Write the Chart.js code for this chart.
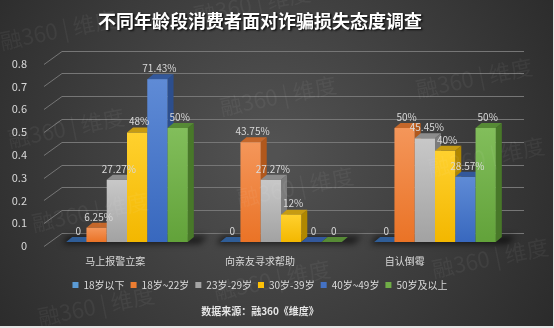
<!DOCTYPE html>
<html>
<head>
<meta charset="utf-8">
<script src="https://cdn.jsdelivr.net/npm/chart.js@4"></script>
<style>
  html, body { margin: 0; padding: 0; background: #e4e4e4; }
  #wrap { width: 553px; height: 326px; }
</style>
</head>
<body>
<div id="wrap"><canvas id="chart"></canvas></div>
<script>
const categories = ['马上报警立案', '向亲友寻求帮助', '自认倒霉'];
const ageGroups = ['18岁以下', '18岁~22岁', '23岁-29岁', '30岁-39岁', '40岁~49岁', '50岁及以上'];
const under18 = [0, 0, 0];
const age18to22 = [0.0625, 0.4375, 0.5];
const age23to29 = [0.2727, 0.2727, 0.4545];
const age30to39 = [0.48, 0.12, 0.40];
const age40to49 = [0.7143, 0, 0.2857];
const age50plus = [0.5, 0, 0.5];
const yTicks = [0, 0.1, 0.2, 0.3, 0.4, 0.5, 0.6, 0.7, 0.8];

const seriesValues = [under18, age18to22, age23to29, age30to39, age40to49, age50plus];

const legendColors = ['#5B9BD5', '#ED7D31', '#A5A5A5', '#FFC000', '#4472C4', '#70AD47'];
// front gradient (top, bottom), right side and top face of each 3D bar
const faces = [
  { front: ['#7DB1E1', '#5593CF'], side: '#3C6EA5', top: '#2F5D97' },
  { front: ['#F4965A', '#EA7326'], side: '#B1581C', top: '#C5672A' },
  { front: ['#C8C8C8', '#A2A2A2'], side: '#7C7C7C', top: '#8C8C8C' },
  { front: ['#FFD12E', '#F3B700'], side: '#B08700', top: '#C69B12' },
  { front: ['#5F8BD6', '#3868BE'], side: '#2C4E8D', top: '#33589B' },
  { front: ['#82BE5B', '#62A23A'], side: '#487829', top: '#568A35' }
];
const depth = { dx: 6, dy: -5 };
const textColor = '#D9D9D9';
const cjk = '"Noto Sans CJK SC", "Noto Sans", sans-serif';

Chart.defaults.font.family = cjk;

const pct = v => v === 0 ? '0' : +(v * 100).toFixed(2) + '%';

// dark vignette backdrop and a drop shadow on the title
const backdrop = {
  id: 'backdrop',
  beforeDraw(chart) {
    const { ctx, width, height } = chart;
    ctx.save();
    const g = ctx.createRadialGradient(270, 150, 10, 270, 150, 340);
    g.addColorStop(0, '#525252');
    g.addColorStop(1, '#2a2a2a');
    ctx.fillStyle = g;
    ctx.fillRect(0, 0, width, height);
    ctx.restore();

    const tb = chart.titleBlock;
    if (tb && !tb._shadowed) {
      const draw = tb.draw.bind(tb);
      tb.draw = area => {
        ctx.save();
        ctx.shadowColor = 'rgba(0,0,0,0.85)';
        ctx.shadowOffsetX = 1.5;
        ctx.shadowOffsetY = 1.5;
        ctx.shadowBlur = 2;
        draw(area);
        ctx.restore();
      };
      tb._shadowed = true;
    }
  }
};

// perspective grid, floor shadow and extruded bars
const bars3d = {
  id: 'bars3d',
  beforeDatasetsDraw(chart) {
    const { ctx, chartArea, scales: { x, y } } = chart;
    const { dx, dy } = depth;
    ctx.save();

    ctx.strokeStyle = '#767676';
    ctx.lineWidth = 1;
    y.ticks.forEach(t => {
      const py = Math.round(y.getPixelForValue(t.value)) + 0.5;
      ctx.beginPath();
      ctx.moveTo(chartArea.left - 6, py + 4);
      ctx.lineTo(chartArea.left + 12, py - 9);
      ctx.lineTo(chartArea.right + 12, py - 9);
      ctx.stroke();
    });

    const base = y.getPixelForValue(0);
    const metas = chart.data.datasets.map((_, i) => chart.getDatasetMeta(i));
    categories.forEach((_, j) => {
      const first = metas[0].data[j], last = metas[metas.length - 1].data[j];
      const l = first.x - first.width / 2, r = last.x + last.width / 2;
      ctx.save();
      ctx.filter = 'blur(3px)';
      ctx.fillStyle = 'rgba(0,0,0,0.6)';
      ctx.beginPath();
      ctx.moveTo(l - 4, base + 2);
      ctx.lineTo(r + dx + 6, base + 2);
      ctx.lineTo(r + dx + 14, base + dy - 1);
      ctx.lineTo(l + 2, base + dy - 1);
      ctx.closePath();
      ctx.fill();
      ctx.restore();
    });

    metas.forEach((meta, i) => {
      const f = faces[i];
      meta.data.forEach(bar => {
        const { x: cx, y: top, base: b, width } = bar.getProps(['x', 'y', 'base', 'width'], true);
        const l = cx - width / 2, r = cx + width / 2;

        ctx.fillStyle = f.side;
        ctx.beginPath();
        ctx.moveTo(r, top);
        ctx.lineTo(r + dx, top + dy);
        ctx.lineTo(r + dx, b + dy);
        ctx.lineTo(r, b);
        ctx.closePath();
        ctx.fill();

        ctx.fillStyle = f.top;
        ctx.beginPath();
        ctx.moveTo(l, top);
        ctx.lineTo(l + dx, top + dy);
        ctx.lineTo(r + dx, top + dy);
        ctx.lineTo(r, top);
        ctx.closePath();
        ctx.fill();

        if (b - top > 0.5) {
          const g = ctx.createLinearGradient(0, top, 0, b);
          g.addColorStop(0, f.front[0]);
          g.addColorStop(1, f.front[1]);
          ctx.fillStyle = g;
          ctx.fillRect(l, top, width, b - top);
        }
      });
    });

    ctx.restore();
    return false;
  },
  afterDraw(chart) {
    const { ctx, chartArea, scales: { x } } = chart;
    ctx.save();
    ctx.fillStyle = textColor;

    // value labels above the top faces
    ctx.font = '10px ' + cjk;
    ctx.textAlign = 'center';
    ctx.textBaseline = 'bottom';
    chart.data.datasets.forEach((ds, i) => {
      chart.getDatasetMeta(i).data.forEach((bar, j) => {
        ctx.fillText(pct(ds.data[j]), bar.x + 2, bar.y + depth.dy - 1);
      });
    });

    // category names on the front edge of the floor
    ctx.textBaseline = 'middle';
    const mid = (x.left + x.right) / 2;
    categories.forEach((name, i) => {
      const px = x.getPixelForValue(i);
      ctx.fillText(name, px - 21 - (px - mid) * 0.06, chartArea.bottom + 19);
    });
    ctx.restore();
  }
};

// faint brand watermarks over the whole picture
const watermarkSpots = [[58, 30], [252, 4], [66, 128], [278, 96], [295, 187], [90, 212], [474, 78], [486, 157], [490, 258], [272, 280], [96, 306]];
const watermark = {
  id: 'watermark',
  afterDraw(chart) {
    const { ctx } = chart;
    ctx.save();
    ctx.font = '22px ' + cjk;
    ctx.fillStyle = 'rgba(255,255,255,0.05)';
    ctx.textAlign = 'center';
    ctx.textBaseline = 'middle';
    watermarkSpots.forEach(([wx, wy]) => {
      ctx.save();
      ctx.translate(wx, wy);
      ctx.rotate(-0.2);
      ctx.fillText('融360 | 维度', 0, 0);
      ctx.restore();
    });
    ctx.restore();
  }
};

new Chart(document.getElementById('chart'), {
  type: 'bar',
  data: {
    labels: categories,
    datasets: ageGroups.map((name, i) => ({
      label: name,
      data: seriesValues[i],
      backgroundColor: legendColors[i],
      borderWidth: 0,
      categoryPercentage: 0.79,
      barPercentage: 1
    }))
  },
  options: {
    responsive: true,
    maintainAspectRatio: false,
    animation: false,
    layout: { padding: { left: 8, right: 41, top: 0, bottom: 0 } },
    scales: {
      x: {
        grid: { display: false },
        border: { display: false },
        ticks: { display: false },
        afterFit: s => { s.height = 32; }
      },
      y: {
        min: 0,
        max: 0.8,
        grid: { display: false },
        border: { display: false },
        afterBuildTicks: s => { s.ticks = yTicks.map(v => ({ value: v })); },
        ticks: {
          color: textColor,
          padding: 15,
          labelOffset: 4,
          font: { size: 11 },
          callback: v => String(+v.toFixed(1))
        },
        afterFit: s => { s.width = 42; }
      }
    },
    plugins: {
      title: {
        display: true,
        text: '不同年龄段消费者面对诈骗损失态度调查',
        color: '#FFFFFF',
        font: { size: 18, weight: 'bold' },
        padding: { top: 10, bottom: 28 }
      },
      legend: {
        position: 'bottom',
        labels: {
          color: textColor,
          boxWidth: 6,
          boxHeight: 6,
          padding: 6,
          font: { size: 10 }
        }
      },
      subtitle: {
        display: true,
        position: 'bottom',
        text: '数据来源：融360《维度》',
        color: '#E6E6E6',
        font: { size: 10, weight: 'bold' },
        padding: { top: 5, bottom: 9 }
      },
      tooltip: { enabled: false }
    }
  },
  plugins: [backdrop, bars3d, watermark]
});
</script>
</body>
</html>
